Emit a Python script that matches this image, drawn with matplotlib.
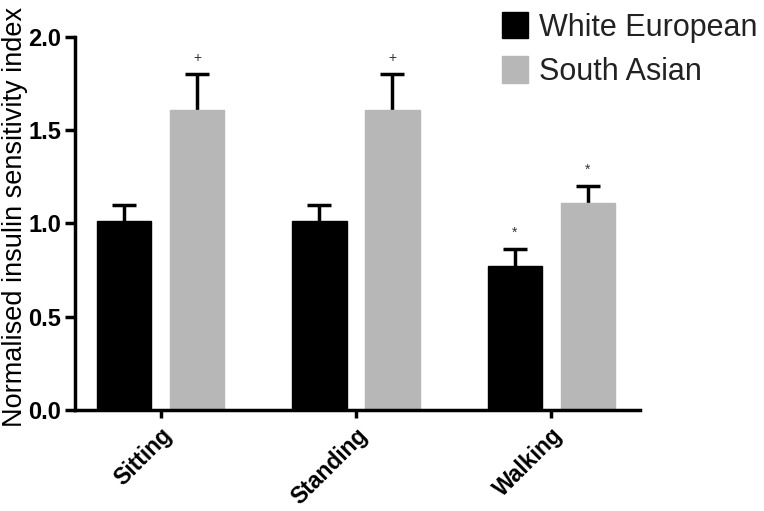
import matplotlib
matplotlib.use('Agg')
import matplotlib.pyplot as plt
import numpy as np

## data
conditions = ['Sitting', 'Standing', 'Walking']
white_european = [1.01, 1.01, 0.77]
white_european_err = [0.09, 0.09, 0.09]
south_asian = [1.61, 1.61, 1.11]
south_asian_err = [0.19, 0.19, 0.09]
we_marks = ['', '', '*']
sa_marks = ['+', '+', '*']

plt.rcParams['font.family'] = ['Liberation Sans', 'DejaVu Sans']

fig = plt.figure(figsize=(7.64, 5.11), dpi=100)
ax = fig.add_axes([0.098, 0.198, 0.74, 0.73])

x = np.arange(len(conditions))
w = 0.277
off = 0.187
grey = '#b7b7b7'

ax.bar(x - off, white_european, w, color='black', edgecolor='black', linewidth=1,
       label='White European', zorder=2)
ax.bar(x + off, south_asian, w, color=grey, edgecolor=grey, linewidth=1,
       label='South Asian', zorder=2)

# upper error bars only
for xs, vals, errs in [(x - off, white_european, white_european_err),
                       (x + off, south_asian, south_asian_err)]:
    eb = ax.errorbar(xs, vals, yerr=[np.zeros(3), errs], fmt='none',
                     ecolor='black', elinewidth=2.5, capsize=8.5, capthick=2.5, zorder=1)
    eb[1][0].set_visible(False)  # no lower cap

# significance marks
for i in range(len(conditions)):
    if we_marks[i]:
        ax.text(x[i] - off, white_european[i] + white_european_err[i] + 0.05, we_marks[i],
                ha='center', va='bottom', fontsize=10, color='#333333')
    if sa_marks[i]:
        ax.text(x[i] + off, south_asian[i] + south_asian_err[i] + 0.05, sa_marks[i],
                ha='center', va='bottom', fontsize=10, color='#333333')

ax.set_xlim(-0.44, 2.456)
ax.set_ylim(0, 2.0)
ax.set_yticks([0, 0.5, 1.0, 1.5, 2.0])
ax.set_yticklabels(['0.0', '0.5', '1.0', '1.5', '2.0'], fontsize=17, fontweight='bold')
ax.set_xticks(x)
ax.set_xticklabels(conditions, fontsize=16.5, fontweight='bold', rotation=45,
                   ha='right', rotation_mode='anchor')
ax.set_ylabel('Normalised insulin sensitivity index', fontsize=19.5)
ax.yaxis.set_label_coords(-0.083, 0.517)

for s in ['top', 'right']:
    ax.spines[s].set_visible(False)
for s in ['left', 'bottom']:
    ax.spines[s].set_linewidth(2.5)
ax.tick_params(axis='y', direction='out', length=7, width=2.5, pad=3)
ax.tick_params(axis='x', direction='out', length=6, width=2.5, pad=4)

leg = ax.legend(loc='upper left', bbox_to_anchor=(502 / 764, 1 - 12 / 511),
                bbox_transform=fig.transFigure, frameon=False, fontsize=22,
                handlelength=0.85, handleheight=0.95, handletextpad=0.35,
                labelspacing=0.45, borderaxespad=0, borderpad=0)
for t in leg.get_texts():
    t.set_color('#222222')

fig.savefig('out.png', dpi=100)
